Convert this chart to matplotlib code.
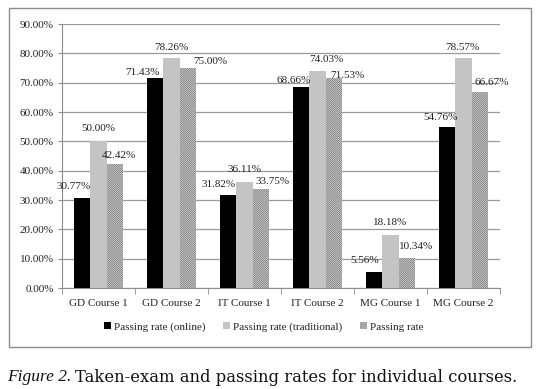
import matplotlib
matplotlib.use("Agg")
import matplotlib.pyplot as plt
import numpy as np
from matplotlib.patches import Rectangle

categories = ["GD Course 1", "GD Course 2", "IT Course 1", "IT Course 2", "MG Course 1", "MG Course 2"]
online = [30.77, 71.43, 31.82, 68.66, 5.56, 54.76]
traditional = [50.00, 78.26, 36.11, 74.03, 18.18, 78.57]
passing = [42.42, 75.00, 33.75, 71.53, 10.34, 66.67]
series_names = ["Passing rate (online)", "Passing rate (traditional)", "Passing rate"]
yticks = [0, 10, 20, 30, 40, 50, 60, 70, 80, 90]

# label placement tweaks (pixels, relative to bar top centre), as in the reference
off_online = [(-8, 11), (-12.5, 5.5), (-9.5, 10), (-7, 6.5), (-9, 11), (-7, 9.5)]
off_trad = [(0, 13), (0, 11), (0.5, 13), (8.5, 11), (0, 12), (-1, 10.5)]
off_pass = [(4, 8.5), (22, 6), (12, 7.5), (13, 3), (9, 11), (11.5, 9.5)]

plt.rcParams['font.family'] = ['Liberation Serif', 'DejaVu Serif']
plt.rcParams['hatch.linewidth'] = 0.7
plt.rcParams['hatch.color'] = '#7a7a7a'

W, H = 536, 389
fig = plt.figure(figsize=(W/100, H/100), dpi=100)

fig.patches.append(Rectangle((9/W, 1-347/H), 522/W, 339/H, transform=fig.transFigure,
                             fill=False, edgecolor='#8c8c8c', linewidth=1.0))

ax = fig.add_axes([62/W, 1-288/H, 438/W, 264/H])
x = np.arange(len(categories))
bw = 0.226
b1 = ax.bar(x - bw, online, bw, color='black', label=series_names[0], zorder=3)
b2 = ax.bar(x, traditional, bw, color='#c4c4c4', label=series_names[1], zorder=3)
b3 = ax.bar(x + bw, passing, bw, facecolor='white', edgecolor='#7a7a7a', linewidth=0,
            hatch='\\' * 16, label=series_names[2], zorder=3)

for bars, vals, offs in [(b1, online, off_online), (b2, traditional, off_trad), (b3, passing, off_pass)]:
    for rect, v, (dx, dy) in zip(bars, vals, offs):
        ax.annotate(f"{v:.2f}%", (rect.get_x() + rect.get_width()/2, v),
                    xytext=(dx, dy), textcoords='offset pixels',
                    ha='center', va='center', fontsize=8, color='#222222', zorder=5)

ax.set_xlim(-0.5, len(categories) - 0.5)
ax.set_ylim(0, 90)
ax.set_yticks(yticks)
ax.set_yticklabels([f"{v:.2f}%" for v in yticks], fontsize=8, color='#222222')
ax.set_xticks(x)
ax.set_xticklabels(categories, fontsize=8, color='#222222')
ax.tick_params(axis='x', length=0, pad=8)
ax.tick_params(axis='y', length=3, pad=3, color='#8c8c8c')
ax.set_xticks(np.arange(-0.5, len(categories)), minor=True)
ax.tick_params(axis='x', which='minor', length=4, color='#8c8c8c', direction='out')
ax.grid(axis='y', color='#9a9a9a', linewidth=0.9, zorder=0)
for s in ['top', 'right']:
    ax.spines[s].set_visible(False)
ax.spines['left'].set_color('#8c8c8c')
ax.spines['bottom'].set_color('#8c8c8c')

fig.legend(handles=[b1, b2, b3], labels=series_names, loc='center',
           bbox_to_anchor=(264/W, 1-327/H), ncol=3, frameon=False, fontsize=8,
           labelcolor='#222222',
           handlelength=0.6, handleheight=0.6, handletextpad=0.3, columnspacing=1.6)

t1 = fig.text(7/W, 1-377/H, "Figure 2.", fontsize=12.5, style='italic', va='center', ha='left',
              family=['Liberation Serif'], color='#111111')
fig.canvas.draw()
bb = t1.get_window_extent(renderer=fig.canvas.get_renderer())
fig.text((bb.x1 + 4)/W, 1-377/H, "Taken-exam and passing rates for individual courses.",
         fontsize=11.8, va='center', ha='left', family=['DejaVu Serif'], color='#111111')

fig.savefig("out.png", dpi=100)
